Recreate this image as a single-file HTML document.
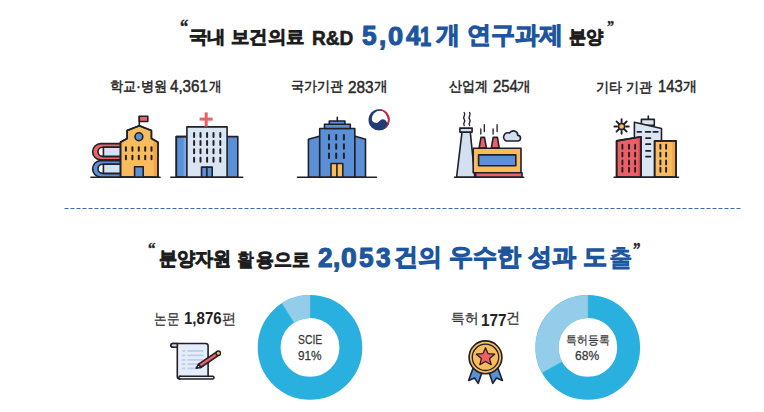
<!DOCTYPE html>
<html><head><meta charset="utf-8">
<style>
html,body{margin:0;padding:0;background:#fff;}
body{width:764px;height:412px;position:relative;overflow:hidden;font-family:"Liberation Sans",sans-serif;}
.tx{position:absolute;white-space:nowrap;line-height:1;}.L{font-weight:bold;-webkit-text-stroke:0}
svg{position:absolute;left:0;top:0;}
</style></head><body>
<svg width="764" height="412" viewBox="0 0 764 412">

<g stroke="#202028" stroke-width="1.6" stroke-linejoin="round" stroke-linecap="round">
<!-- ===== School ===== -->
<line x1="91" y1="177.3" x2="160" y2="177.3"/>
<!-- top book -->
<path d="M121,143.6 H100.8 A8.15,8.15 0 0 0 100.8,159.9 H121 Z" fill="#ec6369"/>
<path d="M121,147.2 H102.6 A4.6,4.6 0 0 0 102.6,156.4 H121 Z" fill="#fff"/>
<rect x="103.4" y="147.2" width="17.6" height="9.2" fill="#d3e2f5"/>
<!-- bottom book -->
<path d="M121,160.6 H100.8 A8.2,8.2 0 0 0 100.8,177 H121 Z" fill="#5b8fd6"/>
<path d="M121,164.2 H102.6 A4.6,4.6 0 0 0 102.6,173.4 H121 Z" fill="#fff"/>
<rect x="103.4" y="164.2" width="17.6" height="9.2" fill="#d3e2f5"/>
<!-- building -->
<path d="M120.5,177 V142.2 L127.1,138.5 V130.6 L139.3,125.8 L151.4,130.6 V138.5 L158,142.2 V177 Z" fill="#f8bb5d"/>
<path d="M152.2,131.4 V139 L157.2,142 V176.2 H153.6 V141 L150.6,139.4 V131.4 Z" fill="#f3a545" stroke="none"/>
<path d="M120.5,177 V142.2 L127.1,138.5 V130.6 L139.3,125.8 L151.4,130.6 V138.5 L158,142.2 V177 Z" fill="none"/>
<line x1="139.3" y1="125.8" x2="139.3" y2="116.5"/>
<rect x="139.3" y="116.2" width="8.5" height="5.3" fill="#ec6369"/>
<circle cx="138.9" cy="136.7" r="3.9" fill="#5b8fd6"/>
<g stroke-width="2">
<line x1="125.9" y1="147.3" x2="125.9" y2="150.8"/><line x1="132.4" y1="147.3" x2="132.4" y2="150.8"/><line x1="138.8" y1="147.3" x2="138.8" y2="150.8"/><line x1="145.2" y1="147.3" x2="145.2" y2="150.8"/><line x1="151.5" y1="147.3" x2="151.5" y2="150.8"/>
<line x1="125.9" y1="155.8" x2="125.9" y2="159.3"/><line x1="132.4" y1="155.8" x2="132.4" y2="159.3"/><line x1="138.8" y1="155.8" x2="138.8" y2="159.3"/><line x1="145.2" y1="155.8" x2="145.2" y2="159.3"/><line x1="151.5" y1="155.8" x2="151.5" y2="159.3"/>
</g>
<rect x="134.6" y="166.7" width="8.6" height="10.3" fill="#5b8fd6"/>

<!-- ===== Hospital ===== -->
<line x1="170.8" y1="177.2" x2="242.7" y2="177.2"/>
<rect x="176.3" y="136.6" width="12" height="40.4" fill="#5b8fd6"/>
<rect x="183.6" y="137.4" width="3.3" height="38.8" fill="#7ba6e2" stroke="none"/>
<rect x="176.3" y="136.6" width="12" height="40.4" fill="none"/>
<rect x="226.2" y="136.6" width="11.6" height="40.4" fill="#5b8fd6"/>
<rect x="186.9" y="126.9" width="40.2" height="50.1" fill="#dae5f4"/>
<g stroke="none" fill="#ec5f65">
<rect x="204.7" y="112.4" width="3" height="14.2"/>
<rect x="199.6" y="117.6" width="13" height="3"/>
</g>
<g stroke-width="2">
<path d="M194.1,133 v4 M200.5,133 v4 M207.1,133 v4 M213.5,133 v4 M220.3,133 v4 M194.1,141 v4 M200.5,141 v4 M207.1,141 v4 M213.5,141 v4 M220.3,141 v4 M194.1,149.2 v4 M200.5,149.2 v4 M207.1,149.2 v4 M213.5,149.2 v4 M220.3,149.2 v4 M194.1,157.8 v4 M200.5,157.8 v4 M207.1,157.8 v4 M213.5,157.8 v4 M220.3,157.8 v4"/>
</g>
<rect x="201.5" y="167.1" width="10.7" height="9.9" fill="#5b8fd6"/>
<line x1="206.85" y1="167.1" x2="206.85" y2="177"/>

<!-- ===== Gov building ===== -->
<line x1="297.5" y1="177.3" x2="376.4" y2="177.3"/>
<path d="M308.4,177 V139.2 L320.2,136 V177 Z" fill="#5b8fd6"/>
<path d="M354.4,177 V136 L365.5,139.2 V177 Z" fill="#5b8fd6"/>
<rect x="319.7" y="128.5" width="35.1" height="48.5" fill="#5b8fd6"/>
<rect x="324.5" y="124.3" width="25.8" height="4.2" fill="#5b8fd6"/>
<rect x="329.3" y="121" width="15.6" height="3.3" fill="#5b8fd6"/>
<line x1="337.3" y1="117.4" x2="337.3" y2="121"/>
<g stroke-width="2">
<path d="M329,135 v4.4 M336.2,135 v4.4 M343.9,135 v4.4 M329,144.3 v4.4 M336.2,144.3 v4.4 M343.9,144.3 v4.4 M329,153.6 v4.4 M336.2,153.6 v4.4 M343.9,153.6 v4.4"/>
</g>
<rect x="331" y="163.5" width="11.8" height="13.5" fill="#f8bb5d"/>
<line x1="336.9" y1="163.5" x2="336.9" y2="177"/>
</g>
<!-- gov logo -->
<circle cx="379.1" cy="119.75" r="10.6" fill="#233d72"/>
<circle cx="380.0" cy="119.0" r="8.2" fill="#fff"/>
<path d="M371.6,120.2 C373.2,122.3 374.9,122.9 376.6,122.9 C378.8,122.9 380,119.2 382.7,119.2 C384.7,119.2 386.4,120.8 387.6,123.4 L389.06,123.38 A10.6,10.6 0 0 1 368.73,121.95 Z" fill="#233d72"/>
<path d="M375.82,109.67 A10.6,10.6 0 0 1 384.08,129.11 A11.147,11.147 0 0 0 375.82,109.67 Z" fill="#d8213f"/>

<g stroke="#202028" stroke-width="1.6" stroke-linejoin="round" stroke-linecap="round">
<!-- ===== Factory ===== -->
<line x1="454.6" y1="177.3" x2="523.7" y2="177.3"/>
<path d="M464.2,125.5 c-2.2,-2.2 2.2,-3.6 0,-6.3 c-2.2,-2.4 2.2,-3.6 0,-6.6 M469.6,125.5 c-2.2,-2.2 2.2,-3.6 0,-6.3 c-2.2,-2.4 2.2,-3.6 0,-6.6" fill="none" stroke-width="1.4"/>
<path d="M456.6,177 L462,132.1 H470.3 L474.8,177 Z" fill="#d3e0f2"/>
<rect x="459.9" y="128.1" width="12.2" height="4" fill="#d3e0f2"/>
<path d="M480.8,129 v5 M484.3,124.6 v7 M493.1,129 v5 M497.1,124.6 v7" stroke-width="1.3"/>
<path d="M479.1,148 L481,137.4 H484.5 L486.4,148 Z" fill="#ec5f65"/>
<path d="M491.3,148 L493.2,137.4 H497.4 L499.2,148 Z" fill="#ec5f65"/>
<rect x="473.2" y="148.2" width="47.8" height="24.5" fill="#f8bb5d"/>
<rect x="475.6" y="172.7" width="46.4" height="4.3" fill="#ec5f65"/>
<rect x="478.6" y="154.9" width="37.2" height="10.8" fill="#5b8fd6"/>
<path d="M506.4,141 H517.6 A2.8,2.8 0 0 0 517.8,135.4 A4.5,4.5 0 0 0 509.5,133 A3.9,3.9 0 0 0 506.4,141 Z" fill="#d3e0f2"/>

<!-- ===== City ===== -->
<line x1="614.1" y1="177.2" x2="678.5" y2="177.2"/>
<path d="M626.20,126.50 L628.80,126.50 M624.85,129.75 L626.69,131.59 M621.60,131.10 L621.60,133.70 M618.35,129.75 L616.51,131.59 M617.00,126.50 L614.40,126.50 M618.35,123.25 L616.51,121.41 M621.60,121.90 L621.60,119.30 M624.85,123.25 L626.69,121.41" stroke-width="1.9"/>
<circle cx="621.6" cy="126.5" r="3.1" fill="#f8bb5d"/>
<line x1="648.3" y1="116.1" x2="648.3" y2="119.4"/>
<rect x="641.4" y="119.4" width="12.9" height="6" fill="#dce6f3"/>
<path d="M634.4,177 V122.2 L661.5,128.5 V177 Z" fill="#dce6f3"/>
<path d="M637.4,131.8 h3.8 M645.6,131.8 h4.8 M653.4,131.8 h4.4 M646,138.1 h4.4 M646,144.2 h4.4 M646,150.8 h4.4 M646,156.6 h4.4" stroke-width="1.8"/>
<path d="M616.6,177 V140.9 L641,136.8 V177 Z" fill="#ec5f65"/>
<path d="M638.6,137.6 L640.2,137.3 V176.2 H638.6 Z" fill="#d9474e" stroke="none"/>
<path d="M616.6,177 V140.9 L641,136.8 V177 Z" fill="none"/>
<rect x="654.6" y="140.9" width="21.4" height="36.1" fill="#f8bb5d"/>
<rect x="672.2" y="141.7" width="3" height="34.5" fill="#f3a545" stroke="none"/>
<rect x="654.6" y="140.9" width="21.4" height="36.1" fill="none"/>
<g stroke-width="1.9">
<path d="M622.4,144.7 v4 M629,144.7 v4 M635.1,144.7 v4 M622.4,152.6 v4 M629,152.6 v4 M635.1,152.6 v4 M622.4,160.4 v4 M629,160.4 v4 M635.1,160.4 v4 M622.4,167.8 v4 M629,167.8 v4 M635.1,167.8 v4"/>
<path d="M660.4,144.7 v4 M666.1,144.7 v4 M660.4,152.6 v4 M666.1,152.6 v4 M660.4,160.4 v4 M666.1,160.4 v4 M660.4,167.8 v4 M666.1,167.8 v4"/>
</g>

<!-- ===== Paper scroll ===== -->
<path d="M177.3,344.2 V376.6 A2.4,2.4 0 0 0 179.7,379 H212.6 A1.35,1.35 0 0 0 212.6,376.3 H208.1 V346 A2.5,2.5 0 0 0 205.6,343.5 H172.8 A1.85,1.85 0 0 0 172.8,347.2 H177.3" fill="#e5edf8"/>
<path d="M172.8,343.5 H177.3 V347.2 H172.8 A1.85,1.85 0 0 1 172.8,343.5 Z" fill="#c9d5e6"/>
<path d="M179.7,379 A1.35,1.35 0 0 1 181,376.3 H208.1" fill="none"/>
<g stroke="#b9d0ee" stroke-width="1.7">
<path d="M182.6,350.8 h2 M182.6,355.4 h2 M182.6,359.9 h2 M182.6,364.2 h2 M182.6,368.4 h2 M188.1,350.8 h14.6 M188.1,355.4 h14.6 M188.1,359.9 h14.6 M188.1,364.2 h10 M188.1,368.4 h7"/>
</g>
<!-- pencil -->
<path d="M198.55,364.20 L217.08,351.65 L219.32,354.95 L200.79,367.50 Z" fill="#ec5f65"/>
<path d="M196.2,368.2 L198.55,364.20 L200.79,367.50 Z" fill="#fff"/>
<circle cx="218.3" cy="353.2" r="2.2" fill="#f8bb5d" stroke-width="1.3"/>

<!-- ===== Medal ===== -->
<path d="M473.5,367 L468.6,380.4 L474.6,378 L478.2,383.4 L482.2,371.5 Z" fill="#5b8fd6"/>
<path d="M497.5,367 L502.4,380.4 L496.4,378 L492.8,383.4 L488.8,371.5 Z" fill="#5b8fd6"/>
<circle cx="485.5" cy="357.3" r="16.4" fill="#f8bb5d"/>
<circle cx="485.5" cy="357.3" r="13.2" fill="none" stroke-width="1.3"/>
<path d="M485.5,347.7 L488,353.6 L494.7,354.2 L489.6,358.5 L491.2,364.7 L485.5,361.4 L479.8,364.7 L481.4,358.5 L476.3,354.2 L483,353.6 Z" fill="#ec5f65" stroke-width="1.2"/>
</g>

<!-- ===== Donuts ===== -->
<circle cx="310" cy="347.4" r="40.85" fill="none" stroke="#2ab0de" stroke-width="22.9"/>
<path d="M310,295.09999999999997 A52.3,52.3 0 0 0 281.98,303.24 L294.25,322.58 A29.4,29.4 0 0 1 310,318.0 Z" fill="#93cdea" stroke="#93cdea" stroke-width="0.4"/>
<circle cx="587.8" cy="347.4" r="40.85" fill="none" stroke="#2ab0de" stroke-width="22.9"/>
<path d="M587.8,295.09999999999997 A52.3,52.3 0 0 0 541.97,372.60 L562.04,361.56 A29.4,29.4 0 0 1 587.8,318.0 Z" fill="#93cdea" stroke="#93cdea" stroke-width="0.4"/>

<!-- dashed line -->
<line x1="64.5" y1="208.5" x2="741" y2="208.5" stroke="#3f6ba6" stroke-width="1.2" stroke-dasharray="4 2"/>
</svg>
<div class="tx" style="left:179.93px;top:17.24px;font-size:20.31px;font-family:'Liberation Serif',serif;font-weight:bold;color:#222;-webkit-text-stroke:0.02em #222;transform:scaleX(0.8143);transform-origin:0 0;">&#8220;</div>
<div class="tx" style="left:189.34px;top:28.00px;font-size:18.23px;font-weight:normal;-webkit-text-stroke:0.085em currentColor;color:#1e1e1e;transform:scaleX(1.0222);transform-origin:0 0;">국내 보건의료</div>
<div class="tx" style="left:312.29px;top:27.67px;font-size:20.29px;font-weight:bold;color:#1e1e1e;-webkit-text-stroke:0.03em #1e1e1e;transform:scaleX(0.9415);transform-origin:0 0;">R&amp;D</div>
<div class="tx" style="left:362.41px;top:23.15px;font-size:26.94px;font-weight:bold;color:#1d569e;-webkit-text-stroke:0.04em #1d569e;transform:scaleX(0.9731);transform-origin:0 0;">5</div>
<div class="tx" style="left:379.47px;top:23.15px;font-size:26.94px;font-weight:bold;color:#1d569e;-webkit-text-stroke:0.04em #1d569e;transform:scaleX(0.9702);transform-origin:0 0;">,</div>
<div class="tx" style="left:388.03px;top:22.95px;font-size:26.58px;font-weight:bold;color:#1d569e;-webkit-text-stroke:0.04em #1d569e;transform:scaleX(1.0241);transform-origin:0 0;">0</div>
<div class="tx" style="left:406.08px;top:22.38px;font-size:27.32px;font-weight:bold;color:#1d569e;-webkit-text-stroke:0.04em #1d569e;transform:scaleX(0.9463);transform-origin:0 0;">4</div>
<div class="tx" style="left:420.40px;top:23.52px;font-size:26.94px;font-weight:bold;color:#1d569e;-webkit-text-stroke:0.04em #1d569e;transform:scaleX(0.7500);transform-origin:0 0;">1</div>
<div class="tx" style="left:435.64px;top:22.91px;font-size:23.96px;font-weight:normal;-webkit-text-stroke:0.08em currentColor;color:#1d569e;transform:scaleX(1.0052);transform-origin:0 0;">개 연구과제</div>
<div class="tx" style="left:568.79px;top:28.34px;font-size:18.21px;font-weight:normal;-webkit-text-stroke:0.085em currentColor;color:#1e1e1e;transform:scaleX(0.9544);transform-origin:0 0;">분양</div>
<div class="tx" style="left:606.61px;top:19.45px;font-size:16.25px;font-family:'Liberation Serif',serif;font-weight:bold;color:#222;-webkit-text-stroke:0.02em #222;transform:scaleX(0.8711);transform-origin:0 0;">&#8221;</div>
<div class="tx" style="left:109.75px;top:79.11px;font-size:14.26px;color:#262626;-webkit-text-stroke:0.035em #262626;transform:scaleX(0.9391);transform-origin:0 0;">학교·병원</div>
<div class="tx" style="left:170.39px;top:78.28px;font-size:16.06px;color:#2a2a2a;-webkit-text-stroke:0.03em #2a2a2a;transform:scaleX(0.9417);transform-origin:0 0;">4,361</div>
<div class="tx" style="left:209.21px;top:79.11px;font-size:14.19px;color:#262626;-webkit-text-stroke:0.035em #262626;transform:scaleX(0.9057);transform-origin:0 0;">개</div>
<div class="tx" style="left:290.71px;top:79.14px;font-size:14.26px;color:#262626;-webkit-text-stroke:0.035em #262626;transform:scaleX(0.9337);transform-origin:0 0;">국가기관</div>
<div class="tx" style="left:347.60px;top:78.90px;font-size:16.06px;color:#2a2a2a;-webkit-text-stroke:0.03em #2a2a2a;transform:scaleX(0.9564);transform-origin:0 0;">283</div>
<div class="tx" style="left:373.66px;top:79.17px;font-size:14.19px;color:#262626;-webkit-text-stroke:0.035em #262626;transform:scaleX(0.9774);transform-origin:0 0;">개</div>
<div class="tx" style="left:449.05px;top:79.06px;font-size:14.26px;color:#262626;-webkit-text-stroke:0.035em #262626;transform:scaleX(0.9272);transform-origin:0 0;">산업계</div>
<div class="tx" style="left:492.81px;top:78.38px;font-size:16.06px;color:#2a2a2a;-webkit-text-stroke:0.03em #2a2a2a;transform:scaleX(0.9253);transform-origin:0 0;">254</div>
<div class="tx" style="left:517.30px;top:79.17px;font-size:14.19px;color:#262626;-webkit-text-stroke:0.035em #262626;transform:scaleX(0.9774);transform-origin:0 0;">개</div>
<div class="tx" style="left:596.22px;top:79.52px;font-size:14.41px;color:#262626;-webkit-text-stroke:0.035em #262626;transform:scaleX(0.9345);transform-origin:0 0;">기타 기관</div>
<div class="tx" style="left:657.65px;top:78.34px;font-size:16.06px;color:#2a2a2a;-webkit-text-stroke:0.03em #2a2a2a;transform:scaleX(0.9206);transform-origin:0 0;">143</div>
<div class="tx" style="left:682.75px;top:79.08px;font-size:14.19px;color:#262626;-webkit-text-stroke:0.035em #262626;transform:scaleX(1.0048);transform-origin:0 0;">개</div>
<div class="tx" style="left:148.49px;top:240.00px;font-size:17.50px;font-family:'Liberation Serif',serif;font-weight:bold;color:#222;-webkit-text-stroke:0.02em #222;transform:scaleX(0.8610);transform-origin:0 0;">&#8220;</div>
<div class="tx" style="left:158.68px;top:250.29px;font-size:18.95px;font-weight:normal;-webkit-text-stroke:0.085em currentColor;color:#1e1e1e;transform:scaleX(0.9528);transform-origin:0 0;">분양자원</div>
<div class="tx" style="left:237.11px;top:250.79px;font-size:18.95px;font-weight:normal;-webkit-text-stroke:0.05em currentColor;color:#1e1e1e;transform:scaleX(0.8920);transform-origin:0 0;">활</div>
<div class="tx" style="left:255.99px;top:250.73px;font-size:18.95px;font-weight:normal;-webkit-text-stroke:0.085em currentColor;color:#1e1e1e;transform:scaleX(0.9425);transform-origin:0 0;">용으로</div>
<div class="tx" style="left:317.60px;top:243.83px;font-size:28.06px;font-weight:bold;color:#1d569e;-webkit-text-stroke:0.04em #1d569e;transform:scaleX(0.9302);transform-origin:0 0;">2</div>
<div class="tx" style="left:332.76px;top:243.90px;font-size:28.06px;font-weight:bold;color:#1d569e;-webkit-text-stroke:0.04em #1d569e;transform:scaleX(0.9321);transform-origin:0 0;">,</div>
<div class="tx" style="left:341.08px;top:244.07px;font-size:27.67px;font-weight:bold;color:#1d569e;-webkit-text-stroke:0.04em #1d569e;transform:scaleX(1.0227);transform-origin:0 0;">0</div>
<div class="tx" style="left:358.58px;top:243.90px;font-size:28.06px;font-weight:bold;color:#1d569e;-webkit-text-stroke:0.04em #1d569e;transform:scaleX(0.9349);transform-origin:0 0;">5</div>
<div class="tx" style="left:376.40px;top:244.01px;font-size:27.67px;font-weight:bold;color:#1d569e;-webkit-text-stroke:0.04em #1d569e;transform:scaleX(0.9479);transform-origin:0 0;">3</div>
<div class="tx" style="left:394.28px;top:244.56px;font-size:24.34px;font-weight:normal;-webkit-text-stroke:0.08em currentColor;color:#1d569e;transform:scaleX(1.0015);transform-origin:0 0;">건의 우수한 성과 도</div>
<div class="tx" style="left:609.26px;top:245.88px;font-size:24.34px;font-weight:normal;-webkit-text-stroke:0.045em currentColor;color:#1d569e;transform:scaleX(0.9780);transform-origin:0 0;">출</div>
<div class="tx" style="left:633.48px;top:241.96px;font-size:17.81px;font-family:'Liberation Serif',serif;font-weight:bold;color:#222;-webkit-text-stroke:0.02em #222;transform:scaleX(0.8434);transform-origin:0 0;">&#8221;</div>
<div class="tx" style="left:153.82px;top:311.04px;font-size:15.11px;color:#333;-webkit-text-stroke:0.018em #333;transform:scaleX(0.8358);transform-origin:0 0;">논문</div>
<div class="tx" style="left:184.48px;top:311.39px;font-size:15.77px;font-weight:bold;color:#222;transform:scaleX(0.9541);transform-origin:0 0;">1,876</div>
<div class="tx" style="left:222.37px;top:312.49px;font-size:14.94px;color:#333;-webkit-text-stroke:0.018em #333;transform:scaleX(0.9391);transform-origin:0 0;">편</div>
<div class="tx" style="left:450.83px;top:311.23px;font-size:14.09px;color:#333;-webkit-text-stroke:0.018em #333;transform:scaleX(0.9845);transform-origin:0 0;">특허</div>
<div class="tx" style="left:481.41px;top:312.66px;font-size:15.65px;font-weight:bold;color:#222;transform:scaleX(0.9833);transform-origin:0 0;">177</div>
<div class="tx" style="left:506.20px;top:311.22px;font-size:14.72px;color:#333;-webkit-text-stroke:0.018em #333;transform:scaleX(0.9367);transform-origin:0 0;">건</div>
<div class="tx" style="left:297.51px;top:334.12px;font-size:12.54px;color:#383838;-webkit-text-stroke:0.02em #383838;transform:scaleX(0.8285);transform-origin:0 0;">SCIE</div>
<div class="tx" style="left:298.35px;top:349.00px;font-size:13.24px;color:#383838;-webkit-text-stroke:0.02em #383838;transform:scaleX(0.8908);transform-origin:0 0;">91%</div>
<div class="tx" style="left:566.00px;top:333.62px;font-size:12.11px;color:#383838;-webkit-text-stroke:0.02em #383838;transform:scaleX(0.9030);transform-origin:0 0;">특허등록</div>
<div class="tx" style="left:575.48px;top:349.13px;font-size:13.10px;color:#383838;-webkit-text-stroke:0.02em #383838;transform:scaleX(0.9209);transform-origin:0 0;">68%</div>
</body></html>
